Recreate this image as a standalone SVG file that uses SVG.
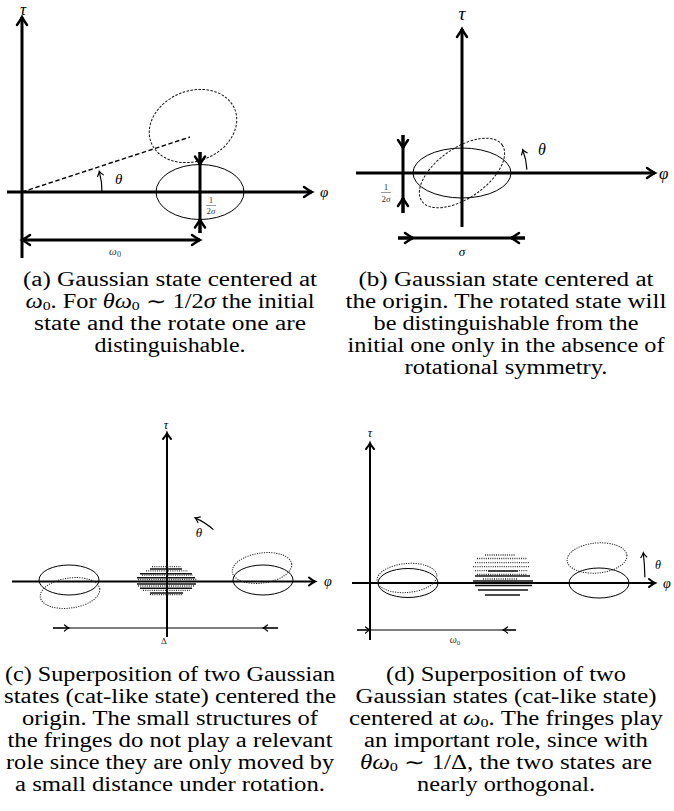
<svg xmlns="http://www.w3.org/2000/svg" width="674" height="811" viewBox="0 0 674 811">
<style>
.ax{stroke:#000;stroke-width:3;fill:none}
.axs{stroke:#000;stroke-width:2;fill:none}
.el{stroke:#000;stroke-width:1;fill:none}
.dt{stroke:#222;stroke-width:1;fill:none;stroke-dasharray:1.2 1.2}
.ds{stroke:#111;stroke-width:1;fill:none;stroke-dasharray:2.5 1.5}
.thin{stroke:#000;stroke-width:1.2;fill:none}
.fs{stroke:#111;stroke-width:1.5}
.fd{stroke:#333;stroke-width:1.3;stroke-dasharray:1 1.2}
.lbl{font-family:"Liberation Serif",serif;font-style:italic;fill:#000}
.sm{font-family:"Liberation Serif",serif;fill:#333}
.cap{font-family:"Liberation Serif",serif;font-size:20px;fill:#000;text-anchor:middle}
.mi{font-style:italic}
.sub{font-size:13px}
</style>
<defs>
<marker id="ah" markerUnits="userSpaceOnUse" orient="auto-start-reverse" refX="0" refY="0" markerWidth="20" markerHeight="20" overflow="visible">
<path d="M-8,-5 Q-3,-1.5 0,0 Q-3,1.5 -8,5" stroke="#000" stroke-width="2.5" fill="none" stroke-linecap="round"/>
</marker>
<marker id="ahs" markerUnits="userSpaceOnUse" orient="auto-start-reverse" refX="0" refY="0" markerWidth="20" markerHeight="20" overflow="visible">
<path d="M-6,-4 Q-2.5,-1 0,0 Q-2.5,1 -6,4" stroke="#000" stroke-width="2" fill="none" stroke-linecap="round"/>
</marker>
<marker id="aht" markerUnits="userSpaceOnUse" orient="auto-start-reverse" refX="0" refY="0" markerWidth="20" markerHeight="20" overflow="visible">
<path d="M-4.5,-3 Q-2,-0.8 0,0 Q-2,0.8 -4.5,3" stroke="#000" stroke-width="1.2" fill="none" stroke-linecap="round"/>
</marker>
</defs>
<rect width="674" height="811" fill="#fff"/>

<!-- Panel (a) -->
<g id="panel-a">
<g id="a-axes">
<line class="ax" x1="22" y1="258" x2="22" y2="17" marker-end="url(#ah)"/>
<line class="ax" x1="7" y1="192" x2="312" y2="192" marker-end="url(#ah)"/>
</g>
<g id="a-states">
<ellipse class="el" cx="200" cy="192" rx="44" ry="27.5"/>
<ellipse class="ds" cx="193" cy="126" rx="45" ry="35" transform="rotate(-22 193 126)"/>
</g>
<g id="a-connectors">
<line x1="22" y1="192" x2="190" y2="137" stroke="#000" stroke-width="1.4" stroke-dasharray="4.5 2.5"/>
<path class="thin" d="M102,192 A80,80 0 0 0 99.3,171.3" stroke-width="1" marker-end="url(#aht)"/>
<line class="ax" x1="200" y1="152" x2="200" y2="233"/>
<path class="ax" d="M200,152 L200,164.5" marker-end="url(#ah)"/>
<path class="ax" d="M200,233 L200,219.5" marker-end="url(#ah)"/>
<line class="ax" x1="22" y1="240" x2="200" y2="240" marker-start="url(#ah)" marker-end="url(#ah)"/>
</g>
<g id="a-labels">
<text class="lbl" x="23" y="15" font-size="17" text-anchor="middle">τ</text>
<text class="lbl" x="320" y="197" font-size="15">φ</text>
<text class="lbl" x="115" y="184" font-size="15">θ</text>
<text class="sm" x="211" y="203" font-size="9" text-anchor="middle">1</text>
<line x1="206" y1="205.5" x2="216" y2="205.5" stroke="#555" stroke-width="0.6"/>
<text class="sm" x="211" y="214" font-size="9" text-anchor="middle">2<tspan class="mi">σ</tspan></text>
<text class="sm" x="115" y="255" font-size="11" text-anchor="middle"><tspan class="mi">ω</tspan><tspan font-size="8" dy="2">0</tspan></text>
</g>
</g>

<!-- Panel (b) -->
<g id="panel-b">
<g id="b-axes">
<line class="ax" x1="462" y1="227" x2="462" y2="29" marker-end="url(#ah)"/>
<line class="ax" x1="356" y1="173" x2="655" y2="173" marker-end="url(#ah)"/>
</g>
<g id="b-states">
<ellipse class="el" cx="462" cy="173" rx="49" ry="25"/>
<ellipse class="ds" cx="462" cy="173" rx="49" ry="25" transform="rotate(-35 462 173)"/>
</g>
<g id="b-connectors">
<path class="thin" d="M526.9,169.6 A65,65 0 0 0 522.7,149.7" stroke-width="1" marker-end="url(#aht)"/>
<line class="ax" x1="403" y1="135" x2="403" y2="213"/>
<path class="ax" d="M403,135 L403,148" marker-end="url(#ah)"/>
<path class="ax" d="M403,213 L403,198" marker-end="url(#ah)"/>
<line class="ax" x1="398" y1="238" x2="525" y2="238"/>
<path class="ax" d="M398,238 L413,238" marker-end="url(#ah)"/>
<path class="ax" d="M525,238 L511,238" marker-end="url(#ah)"/>
</g>
<g id="b-labels">
<text class="lbl" x="462" y="20" font-size="19" text-anchor="middle">τ</text>
<text class="lbl" x="659" y="179" font-size="17">φ</text>
<text class="lbl" x="538" y="155" font-size="16">θ</text>
<text class="sm" x="386" y="190" font-size="9" text-anchor="middle">1</text>
<line x1="381" y1="192.5" x2="391" y2="192.5" stroke="#555" stroke-width="0.6"/>
<text class="sm" x="386" y="202" font-size="9" text-anchor="middle">2<tspan class="mi">σ</tspan></text>
<text class="lbl" x="462" y="256" font-size="13" text-anchor="middle" fill="#333">σ</text>
</g>
</g>

<!-- Panel (c) -->
<g id="panel-c">
<g id="c-axes">
<line class="axs" x1="167" y1="637" x2="167" y2="433" marker-end="url(#ahs)"/>
<line class="axs" x1="12" y1="581.5" x2="315" y2="581.5" marker-end="url(#ahs)"/>
</g>
<g id="c-states">
<ellipse class="el" cx="69" cy="580" rx="30" ry="15"/>
<ellipse class="dt" cx="70" cy="593" rx="30" ry="15" transform="rotate(-8 70 593)"/>
<ellipse class="el" cx="263" cy="580" rx="30" ry="15"/>
<ellipse class="dt" cx="262" cy="568" rx="30" ry="15" transform="rotate(-8 262 568)"/>
</g>
<g id="c-fringes">
<line class="fs" x1="150" y1="569" x2="182" y2="569"/>
<line class="fs" x1="140" y1="573.7" x2="192" y2="573.7"/>
<line class="fs" x1="137" y1="577.7" x2="195" y2="577.7"/>
<line class="fs" x1="137" y1="583.9" x2="196" y2="583.9"/>
<line class="fs" x1="140" y1="588.3" x2="192" y2="588.3"/>
<line class="fs" x1="150" y1="593" x2="183" y2="593"/>
<line class="fd" x1="152" y1="566.7" x2="181" y2="566.7"/>
<line class="fd" x1="146" y1="570.8" x2="188" y2="570.8"/>
<line class="fd" x1="142" y1="575.2" x2="193" y2="575.2"/>
<line class="fd" x1="138" y1="579.5" x2="197" y2="579.5"/>
<line class="fd" x1="138" y1="586" x2="195" y2="586"/>
<line class="fd" x1="143" y1="590.4" x2="190" y2="590.4"/>
<line class="fd" x1="150" y1="594.6" x2="182" y2="594.6"/>
</g>
<g id="c-connectors">
<path class="thin" d="M213.4,529.6 A70,70 0 0 0 195,517.9" stroke-width="1" marker-end="url(#aht)"/>
<line class="thin" x1="53" y1="628" x2="278" y2="628"/>
<path class="thin" d="M53,628 L69,628" marker-end="url(#aht)"/>
<path class="thin" d="M278,628 L263,628" marker-end="url(#aht)"/>
</g>
<g id="c-labels">
<text class="lbl" x="166" y="429" font-size="12" text-anchor="middle">τ</text>
<text class="lbl" x="324" y="586" font-size="14">φ</text>
<text class="lbl" x="199" y="537" font-size="13" text-anchor="middle">θ</text>
<text class="sm" x="164" y="644" font-size="9" text-anchor="middle">Δ</text>
</g>
</g>

<!-- Panel (d) -->
<g id="panel-d">
<g id="d-axes">
<line class="axs" x1="370" y1="640" x2="370" y2="443" marker-end="url(#ahs)"/>
<line class="axs" x1="352" y1="583" x2="655" y2="583" marker-end="url(#ahs)"/>
</g>
<g id="d-states">
<ellipse class="el" cx="408" cy="583" rx="30" ry="14.5"/>
<ellipse class="dt" cx="407" cy="578" rx="30" ry="14.5" transform="rotate(-5 407 578)"/>
<ellipse class="el" cx="599" cy="583" rx="30" ry="15"/>
<ellipse class="dt" cx="597" cy="558" rx="30" ry="15" transform="rotate(-5 597 558)"/>
</g>
<g id="d-fringes">
<line class="fs" x1="488" y1="571" x2="518" y2="571"/>
<line class="fs" x1="475" y1="576" x2="530" y2="576"/>
<line class="fs" x1="473" y1="581" x2="533" y2="581"/>
<line class="fs" x1="475" y1="585.5" x2="532" y2="585.5"/>
<line class="fs" x1="478" y1="590" x2="528" y2="590"/>
<line class="fs" x1="485" y1="595" x2="520" y2="595"/>
<line class="fd" x1="485" y1="555" x2="515" y2="555"/>
<line class="fd" x1="477" y1="558.5" x2="527" y2="558.5"/>
<line class="fd" x1="475" y1="562.7" x2="530" y2="562.7"/>
<line class="fd" x1="473" y1="566.7" x2="530" y2="566.7"/>
<line class="fd" x1="475" y1="570.7" x2="528" y2="570.7"/>
<line class="fd" x1="477" y1="574.5" x2="527" y2="574.5"/>
<line class="fd" x1="483" y1="579" x2="518" y2="579"/>
</g>
<g id="d-connectors">
<path class="thin" d="M644.9,577.2 A275,275 0 0 0 643.3,552.8" stroke-width="1" marker-end="url(#aht)"/>
<line class="thin" x1="357" y1="630" x2="516" y2="630"/>
<path class="thin" d="M357,630 L370,630" marker-end="url(#aht)"/>
<path class="thin" d="M516,630 L503,630" marker-end="url(#aht)"/>
</g>
<g id="d-labels">
<text class="lbl" x="370" y="437" font-size="12" text-anchor="middle">τ</text>
<text class="lbl" x="663" y="588" font-size="14">φ</text>
<text class="lbl" x="655" y="569" font-size="12">θ</text>
<text class="sm" x="455" y="643" font-size="10" text-anchor="middle"><tspan class="mi">ω</tspan><tspan font-size="7" dy="2">0</tspan></text>
</g>
</g>

<!-- Captions -->
<g id="captions">
<g id="cap-a">
<text class="cap" x="170" y="286" textLength="294" lengthAdjust="spacingAndGlyphs">(a) Gaussian state centered at</text>
<text class="cap" x="170" y="308" textLength="289" lengthAdjust="spacingAndGlyphs"><tspan class="mi">ω</tspan><tspan class="sub" dy="2">0</tspan><tspan dy="-2">. For </tspan><tspan class="mi">θω</tspan><tspan class="sub" dy="2">0</tspan><tspan dy="-2"> ∼ 1/2</tspan><tspan class="mi">σ</tspan> the initial</text>
<text class="cap" x="170" y="330" textLength="272" lengthAdjust="spacingAndGlyphs">state and the rotate one are</text>
<text class="cap" x="170" y="352" textLength="151" lengthAdjust="spacingAndGlyphs">distinguishable.</text>
</g>
<g id="cap-b">
<text class="cap" x="506" y="286" textLength="295" lengthAdjust="spacingAndGlyphs">(b) Gaussian state centered at</text>
<text class="cap" x="506" y="308" textLength="321" lengthAdjust="spacingAndGlyphs">the origin. The rotated state will</text>
<text class="cap" x="506" y="330" textLength="265" lengthAdjust="spacingAndGlyphs">be distinguishable from the</text>
<text class="cap" x="506" y="352" textLength="317" lengthAdjust="spacingAndGlyphs">initial one only in the absence of</text>
<text class="cap" x="506" y="374" textLength="203" lengthAdjust="spacingAndGlyphs">rotational symmetry.</text>
</g>
<g id="cap-c">
<text class="cap" x="170" y="681" textLength="330" lengthAdjust="spacingAndGlyphs">(c) Superposition of two Gaussian</text>
<text class="cap" x="170" y="703" textLength="332" lengthAdjust="spacingAndGlyphs">states (cat-like state) centered the</text>
<text class="cap" x="170" y="725" textLength="296" lengthAdjust="spacingAndGlyphs">origin. The small structures of</text>
<text class="cap" x="170" y="747" textLength="325" lengthAdjust="spacingAndGlyphs">the fringes do not play a relevant</text>
<text class="cap" x="170" y="769" textLength="328" lengthAdjust="spacingAndGlyphs">role since they are only moved by</text>
<text class="cap" x="170" y="791" textLength="310" lengthAdjust="spacingAndGlyphs">a small distance under rotation.</text>
</g>
<g id="cap-d">
<text class="cap" x="506" y="681" textLength="240" lengthAdjust="spacingAndGlyphs">(d) Superposition of two</text>
<text class="cap" x="506" y="703" textLength="301" lengthAdjust="spacingAndGlyphs">Gaussian states (cat-like state)</text>
<text class="cap" x="506" y="725" textLength="314" lengthAdjust="spacingAndGlyphs">centered at <tspan class="mi">ω</tspan><tspan class="sub" dy="2">0</tspan><tspan dy="-2">. The fringes play</tspan></text>
<text class="cap" x="506" y="747" textLength="284" lengthAdjust="spacingAndGlyphs">an important role, since with</text>
<text class="cap" x="506" y="769" textLength="292" lengthAdjust="spacingAndGlyphs"><tspan class="mi">θω</tspan><tspan class="sub" dy="2">0</tspan><tspan dy="-2"> ∼ 1/Δ, the two states are</tspan></text>
<text class="cap" x="506" y="791" textLength="178" lengthAdjust="spacingAndGlyphs">nearly orthogonal.</text>
</g>
</g>
</svg>
